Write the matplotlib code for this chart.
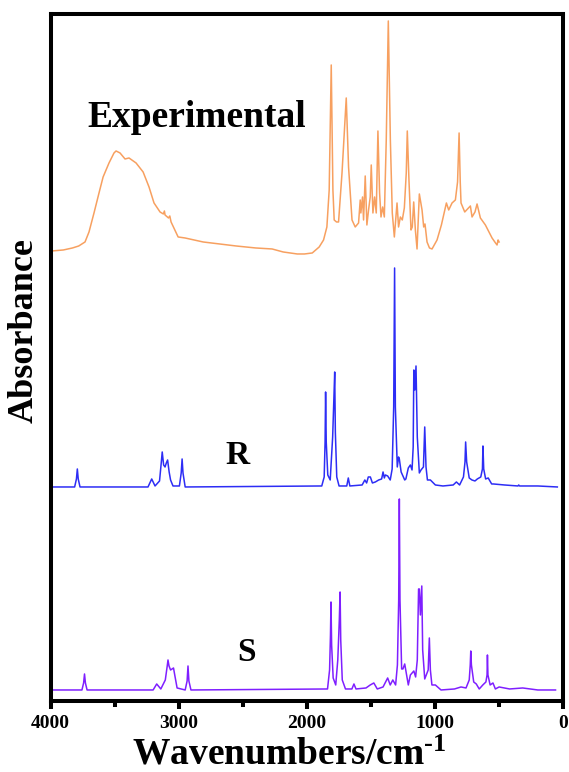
import numpy as np
import matplotlib.pyplot as plt

plt.rcParams['mathtext.fontset'] = 'custom'
plt.rcParams['mathtext.rm'] = 'Liberation Serif:bold'
plt.rcParams['mathtext.bf'] = 'Liberation Serif:bold'
plt.rcParams['mathtext.it'] = 'Liberation Serif:bold'

# wavenumber (cm-1) / absorbance (a.u.)
exp_wn = [3990, 3900, 3829, 3780, 3731, 3700, 3661, 3620, 3590, 3544, 3505, 3489, 3458, 3419,
          3388, 3333, 3278, 3232, 3193, 3146, 3120, 3112, 3107, 3080, 3070, 3060, 3005, 2951,
          2810, 2553, 2400, 2272, 2186, 2076, 2020, 1959, 1905, 1871, 1845, 1827, 1811, 1798,
          1788, 1770, 1754, 1727, 1694, 1676, 1649, 1624, 1598, 1585, 1580, 1567, 1559, 1546,
          1533, 1520, 1507, 1499, 1486, 1473, 1460, 1447, 1434, 1423, 1410, 1397, 1382, 1366,
          1350, 1335, 1319, 1298, 1286, 1272, 1257, 1241, 1226, 1218, 1205, 1189, 1179, 1168,
          1155, 1142, 1124, 1103, 1090, 1080, 1064, 1045, 1025, 986, 952, 913, 895, 869, 843,
          826, 814, 805, 799, 770, 726, 713, 690, 674, 648, 609, 557, 530, 518, 510, 502]
exp_abs = [11, 12, 14, 16, 20, 30, 49, 70, 85, 99, 109, 111, 109, 103,
           104, 99, 90, 75, 59, 50, 48, 51, 47, 44, 46, 40, 25, 24,
           20, 16, 14, 13, 10, 8, 8, 9, 15, 22, 35, 72, 197, 72,
           42, 40, 40, 89, 164, 95, 42, 35, 39, 62, 49, 65, 42, 86,
           37, 52, 65, 97, 49, 65, 49, 131, 69, 45, 55, 45, 122, 241,
           122, 49, 25, 59, 35, 45, 42, 54, 89, 131, 82, 32, 35, 60,
           32, 13, 68, 52, 35, 38, 20, 14, 13, 22, 37, 59, 52, 59, 62,
           80, 129, 80, 59, 50, 56, 45, 50, 58, 44, 37, 24, 19, 17, 22, 20]

r_wn = [3976, 3812, 3798, 3791, 3784, 3770, 3240, 3211, 3185, 3150, 3136, 3129, 3118, 3107,
        3097, 3087, 3075, 3064, 3045, 2995, 2981, 2974, 2967, 2950, 1885, 1866, 1859, 1855,
        1850, 1838, 1819, 1800, 1790, 1784, 1779, 1768, 1750, 1690, 1678, 1666, 1570, 1549,
        1535, 1522, 1506, 1490, 1467, 1441, 1418, 1407, 1397, 1389, 1371, 1351, 1336, 1324,
        1317, 1311, 1296, 1286, 1280, 1266, 1238, 1229, 1210, 1194, 1181, 1172, 1167, 1159,
        1150, 1140, 1124, 1111, 1092, 1082, 1072, 1061, 1038, 999, 940, 860, 835, 810, 780,
        768, 763, 755, 735, 714, 690, 672, 645, 632, 628, 622, 607, 587, 560, 546, 460, 355,
        349, 343, 200, 48]
r_abs = [0, 0, 8, 18, 8, 0, 0, 8, 1, 6, 25, 35, 22, 20,
         24, 27, 15, 7, 1, 1, 14, 28, 14, 0, 1, 10, 45, 95,
         45, 12, 7, 50, 90, 115, 55, 10, 1, 1, 9, 1, 2, 7,
         4, 10, 10, 4, 5, 7, 8, 15, 9, 12, 11, 7, 18, 80,
         219, 80, 20, 30, 28, 15, 7, 8, 19, 22, 17, 40, 117, 97,
         121, 50, 14, 17, 20, 60, 20, 7, 7, 2, 1, 2, 5, 2, 10,
         25, 45, 25, 9, 7, 6, 8, 10, 18, 41, 18, 8, 9, 3, 3, 2, 1,
         2, 1, 1, 0]

s_wn = [3976, 3755, 3742, 3735, 3728, 3715, 3200, 3172, 3140, 3105, 3090, 3084, 3076, 3064,
        3052, 3041, 3030, 3013, 2950, 2935, 2928, 2921, 2905, 1840, 1824, 1817, 1813, 1808,
        1796, 1776, 1760, 1748, 1742, 1737, 1725, 1700, 1650, 1634, 1618, 1540, 1507, 1479,
        1452, 1407, 1371, 1351, 1331, 1309, 1295, 1285, 1280, 1275, 1262, 1252, 1238, 1210,
        1194, 1167, 1153, 1140, 1130, 1124, 1116, 1105, 1098, 1082, 1055, 1046, 1038, 1026,
        999, 955, 850, 799, 760, 735, 727, 723, 718, 700, 680, 657, 629, 605, 596, 593, 589,
        572, 550, 531, 502, 420, 318, 200, 62]
s_abs = [0, 0, 7, 16, 7, 0, 0, 6, 1, 10, 24, 30, 24, 20,
         21, 22, 14, 2, 0, 9, 24, 9, 0, 1, 20, 55, 88, 45,
         12, 5, 30, 70, 98, 50, 10, 1, 1, 6, 1, 2, 5, 7,
         1, 3, 12, 5, 10, 5, 25, 90, 191, 90, 21, 21, 26, 5,
         15, 19, 13, 30, 101, 101, 75, 104, 40, 11, 20, 52, 20, 5,
         5, 0, 1, 3, 2, 10, 25, 39, 25, 8, 6, 1, 5, 8, 15, 35, 15,
         5, 7, 1, 3, 1, 2, 0, 0]

exp_offset = 439
r_offset = 214
s_offset = 11

fig = plt.figure(figsize=(5.69, 7.72), dpi=100)
ax = fig.add_axes([0.0888, 0.092, 0.9015, 0.8899])

ax.plot(exp_wn, np.array(exp_abs) + exp_offset, color='#F7A060', lw=1.1)
ax.plot(r_wn, np.array(r_abs) + r_offset, color='#2D2DF5', lw=1.1)
ax.plot(s_wn, np.array(s_abs) + s_offset, color='#7F1FFF', lw=1.1)

ax.set_xlim(4000, 0)
ax.set_ylim(0, 687)
ax.set_xticks([4000, 3000, 2000, 1000, 0])
ax.set_xticks([3500, 2500, 1500, 500], minor=True)
ax.set_yticks([])
for s in ax.spines.values():
    s.set_linewidth(2.9)
ax.tick_params(axis='x', which='major', length=6, width=2.9, direction='out', pad=4)
ax.tick_params(axis='x', which='minor', length=4.5, width=2.9, direction='out')
for lab in ax.get_xticklabels():
    lab.set_fontfamily('Liberation Serif')
    lab.set_fontweight('bold')
    lab.set_fontsize(14)

serif = dict(family='Liberation Serif', weight='bold')
fig.text(289 / 569, 1 - 755 / 772, 'Wavenumbers/cm$^{\\text{-1}}$', ha='center', va='center',
         fontsize=27, **serif)
fig.text(24 / 569, 1 - 331 / 772, 'Absorbance', rotation=90, ha='center', va='center',
         fontsize=26, **serif)

ax.text(2857, 583, 'Experimental', ha='center', va='center', fontsize=27, **serif)
ax.text(2545, 245, 'R', ha='center', va='center', fontsize=24, **serif)
ax.text(2474, 48, 'S', ha='center', va='center', fontsize=24, **serif)

fig.savefig('out.png', dpi=100)
